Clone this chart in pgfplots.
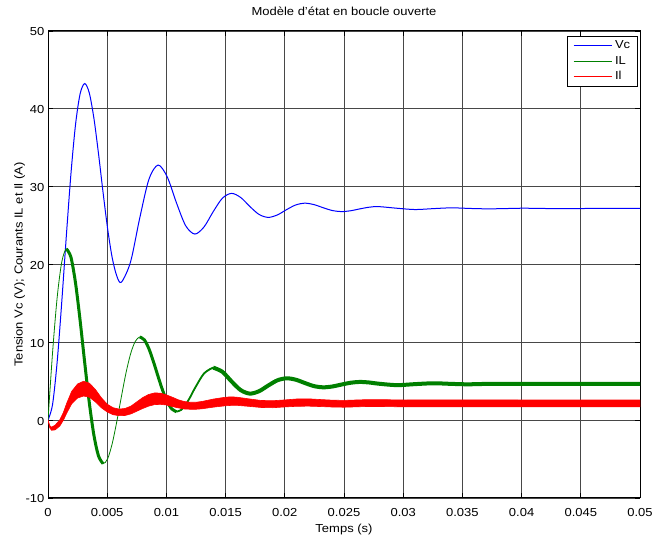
\documentclass[border=0pt]{standalone}
\usepackage{fontspec}
\setmainfont{Liberation Sans}[FakeStretch=1.12]
\usepackage{pgfplots}
\pgfplotsset{compat=1.18}
\definecolor{mgreen}{rgb}{0,0.5,0}
\newcommand\ff{\fontsize{11.6}{14}\selectfont}
\begin{document}
\begin{tikzpicture}
\useasboundingbox (0,0) rectangle (658pt,537pt);
\begin{axis}[
  at={(48pt,39pt)}, anchor=south west,
  scale only axis, width=592pt, height=467pt,
  xmin=0, xmax=0.05, ymin=-10, ymax=50,
  xtick={0,0.005,0.01,0.015,0.02,0.025,0.03,0.035,0.04,0.045,0.05},
  xticklabels={0,0.005,0.01,0.015,0.02,0.025,0.03,0.035,0.04,0.045,0.05},
  ytick={-10,0,10,20,30,40,50},
  yticklabels={-10,0,10,20,30,40,50},
  scaled x ticks=false, scaled y ticks=false,
  grid=major,
  grid style={black!72, line width=0.7pt},
  axis line style={black, line width=1pt},
  tick align=inside, major tick length=5pt,
  tick style={black, line width=0.8pt},
  /pgf/number format/assume math mode=true,
  xticklabel style={font=\ff, anchor=north, inner sep=0pt, yshift=-10pt},
  yticklabel style={font=\ff, anchor=east, inner sep=0pt, xshift=-3.5pt, yshift=-1pt},
  title={Modèle d'état en boucle ouverte},
  title style={font=\ff, at={(0.5,1.0199)}, anchor=base},
  xlabel={Temps (s)},
  every axis x label/.style={font=\ff, at={(axis description cs:0.5,-0.0749)}, anchor=base},
  ylabel={Tension Vc (V); Courants IL et Il (A)},
  every axis y label/.style={font=\ff, at={(axis description cs:-0.0427,0.5)}, rotate=90, anchor=base},
  legend image code/.code={\draw[#1] (0pt,0pt) -- (38pt,0pt);},
  legend cell align=left,
  legend style={font=\ff, at={(0.9961,0.9893)}, anchor=north east,
    fill=white,
    inner xsep=5.8pt, inner ysep=2pt, row sep=0pt, column sep=1.3pt,
    nodes={inner sep=1.5pt, text height=9pt, text depth=3.5pt}},
]
\addlegendimage{draw=blue, line width=1pt}
\addlegendentry{Vc}
\addlegendimage{draw=mgreen, line width=1pt}
\addlegendentry{IL}
\addlegendimage{draw=red, line width=1pt}
\addlegendentry{Il}
% Vc
\addplot[blue, line width=1pt, smooth, forget plot] coordinates {
(0,0) (0.0003875,2.04) (0.000775,7.51) (0.0011625,15.19) (0.00155,23.69)
(0.0019375,31.65) (0.002325,37.97) (0.0027125,41.93) (0.0031,43.25)
(0.0034875,42.04) (0.003875,38.81) (0.0042625,34.28) (0.00465,29.27)
(0.0050375,24.58) (0.005425,20.85) (0.0058125,18.51) (0.0062,17.73)
(0.006975,20.35) (0.00775,25.98) (0.008525,30.95) (0.0093,32.78)
(0.010075,31.24) (0.01085,27.92) (0.011625,24.99) (0.0124,23.91)
(0.013175,24.82) (0.01395,26.78) (0.014725,28.51) (0.0155,29.14)
(0.016275,28.61) (0.01705,27.45) (0.017825,26.43) (0.0186,26.05)
(0.019375,26.37) (0.02015,27.05) (0.020925,27.65) (0.0217,27.88)
(0.022475,27.69) (0.02325,27.29) (0.024025,26.93) (0.0248,26.80)
(0.025575,26.91) (0.02635,27.15) (0.027125,27.36) (0.0279,27.44)
(0.02945,27.23) (0.031,27.06) (0.03255,27.18) (0.0341,27.28)
(0.03565,27.20) (0.0372,27.15) (0.03875,27.19) (0.0403,27.23)
(0.0434,27.17) (0.0465,27.21) (0.05,27.2)
};
% IL thin full curve
\addplot[mgreen, line width=0.8pt, smooth, forget plot] coordinates {
(0,0) (0.0003875,8.73) (0.000775,15.77) (0.0011625,20.32) (0.00155,22.01)
(0.0019375,20.94) (0.002325,17.62) (0.0027125,12.81) (0.0031,7.39)
(0.0034875,2.25) (0.003875,-1.91) (0.0042625,-4.59) (0.00465,-5.59)
(0.0050375,-4.96) (0.005425,-3.00) (0.0058125,-0.16) (0.0062,3.03)
(0.0065875,6.07) (0.006975,8.52) (0.0073625,10.10) (0.00775,10.69)
(0.0081375,10.32) (0.008525,9.17) (0.0089125,7.49) (0.0093,5.60)
(0.0096875,3.81) (0.010075,2.37) (0.0104625,1.43) (0.01085,1.09)
(0.0112375,1.31) (0.011625,1.99) (0.0120125,2.97) (0.0124,4.09)
(0.013175,6.00) (0.01395,6.75) (0.014725,6.22) (0.0155,4.98)
(0.016275,3.86) (0.01705,3.41) (0.017825,3.72) (0.0186,4.45)
(0.019375,5.12) (0.02015,5.38) (0.020925,5.20) (0.0217,4.77)
(0.022475,4.37) (0.02325,4.22) (0.024025,4.33) (0.0248,4.58)
(0.025575,4.81) (0.02635,4.91) (0.027125,4.84) (0.0279,4.69)
(0.02945,4.50) (0.031,4.63) (0.03255,4.74) (0.0341,4.66)
(0.03565,4.60) (0.0372,4.65) (0.05,4.65)
};
% IL thick (ripple) segments
\addplot[mgreen, line width=3pt, smooth, forget plot] coordinates {
(0.00155,22.01) (0.0019375,20.94) (0.002325,17.62) (0.0027125,12.81) (0.0031,7.39)
(0.0034875,2.25) (0.003875,-1.91) (0.0042625,-4.59) (0.00465,-5.59)
};
\addplot[mgreen, line width=3pt, smooth, forget plot] coordinates {
(0.00775,10.69) (0.0081375,10.32) (0.008525,9.17) (0.0089125,7.49) (0.0093,5.60)
(0.0096875,3.81) (0.010075,2.37) (0.0104625,1.43) (0.01085,1.09)
};
\addplot[mgreen, line width=1.8pt, smooth, forget plot] coordinates {
(0.01085,1.09) (0.0112375,1.31) (0.011625,1.99) (0.0120125,2.97) (0.0124,4.09)
(0.013175,6.00) (0.01395,6.75)
};
\addplot[mgreen, line width=4pt, smooth, forget plot] coordinates {
(0.01395,6.75) (0.014725,6.22) (0.0155,4.98)
(0.016275,3.86) (0.01705,3.41) (0.017825,3.72) (0.0186,4.45)
(0.019375,5.12) (0.02015,5.38) (0.020925,5.20) (0.0217,4.77)
(0.022475,4.37) (0.02325,4.22) (0.024025,4.33) (0.0248,4.58)
(0.025575,4.81) (0.02635,4.91) (0.027125,4.84) (0.0279,4.69)
(0.02945,4.50) (0.031,4.63) (0.03255,4.74) (0.0341,4.66)
(0.03565,4.60) (0.0372,4.65) (0.05,4.65)
};
% Il ripple band (upper envelope then lower envelope)
\addplot[fill=red, draw=red, line width=0.6pt, forget plot] coordinates {
(0,0.05) (0.00015,-0.7) (0.0003,-0.9) (0.0006,-0.65) (0.001,0.05) (0.0013,1.0)
(0.0016,2.25) (0.002,3.7) (0.0025,4.65) (0.003,5.0) (0.0035,4.75) (0.004,3.95)
(0.0045,2.9) (0.005,2.05) (0.0055,1.6) (0.006,1.42) (0.0065,1.5) (0.007,1.8)
(0.0075,2.35) (0.008,2.9) (0.0085,3.3) (0.009,3.5) (0.0095,3.47) (0.01,3.25)
(0.0105,2.95) (0.011,2.62) (0.0115,2.4) (0.012,2.3) (0.0125,2.3) (0.013,2.4)
(0.014,2.72) (0.015,2.95) (0.0155,3.0) (0.016,2.94) (0.017,2.73) (0.018,2.53)
(0.019,2.5) (0.02,2.6) (0.021,2.72) (0.022,2.74) (0.023,2.65) (0.024,2.57)
(0.025,2.54) (0.026,2.59) (0.027,2.64) (0.028,2.64) (0.03,2.59) (0.035,2.6)
(0.04,2.59) (0.05,2.59)
(0.05,1.71) (0.04,1.71) (0.035,1.72) (0.03,1.71) (0.028,1.76) (0.027,1.76)
(0.026,1.71) (0.025,1.66) (0.024,1.69) (0.023,1.75) (0.022,1.8) (0.021,1.78)
(0.02,1.7) (0.019,1.6) (0.018,1.63) (0.017,1.77) (0.016,1.9) (0.0155,1.9)
(0.015,1.85) (0.014,1.68) (0.013,1.46) (0.0125,1.4) (0.012,1.4) (0.0115,1.44)
(0.011,1.58) (0.0105,1.75) (0.01,1.95) (0.0095,2.03) (0.009,2.0) (0.0085,1.8)
(0.008,1.5) (0.0075,1.15) (0.007,0.8) (0.0065,0.6) (0.006,0.58) (0.0055,0.7)
(0.005,1.05) (0.0045,1.6) (0.004,2.35) (0.0035,2.95) (0.003,3.1) (0.0025,2.85)
(0.002,2.1) (0.0016,0.95) (0.0013,0.0) (0.001,-0.75) (0.0006,-1.25) (0.0003,-1.3)
(0.00015,-1.0) (0,-0.05)
} -- cycle;
\end{axis}
\end{tikzpicture}
\end{document}
